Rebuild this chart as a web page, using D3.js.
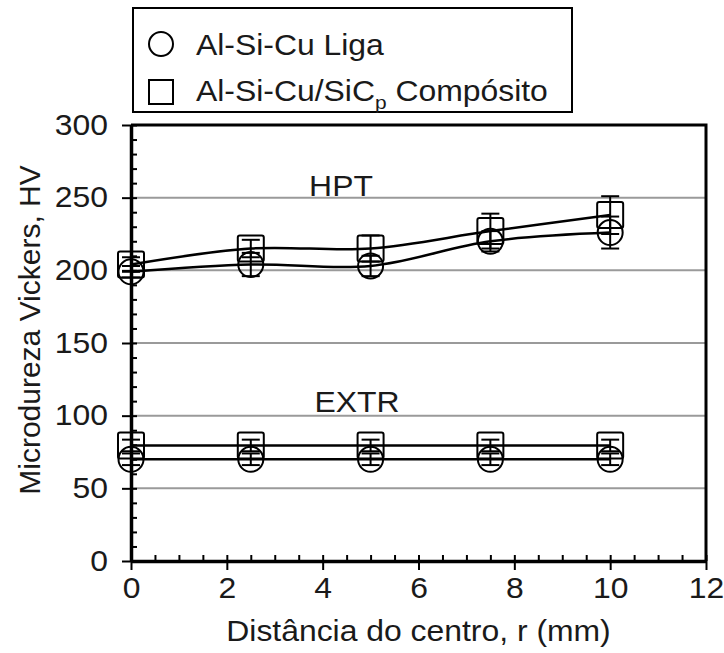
<!DOCTYPE html>
<html>
<head>
<meta charset="utf-8">
<script src="https://cdn.jsdelivr.net/npm/d3@7.9.0/dist/d3.min.js"></script>
<style>
  body { margin: 0; background: #fff; }
  svg text { font-family: "Liberation Sans", Arial, sans-serif; fill: #1a1a1a; }
</style>
</head>
<body>
<svg width="724" height="653"></svg>
<script>
// distance from centre (mm)
const radius = [0, 2.5, 5, 7.5, 10];

// HPT series
const hptComposite = [204, 215, 215, 227, 238];
const hptCompositeErr = [5, 6, 9, 12, 13];
const hptAlloy = [199, 204, 203, 220, 226];
const hptAlloyErr = [4, 8, 7, 7, 11];

// EXTR series
const extrComposite = [79.5, 79.5, 79.5, 79.5, 79.5];
const extrCompositeErr = [4, 4, 4, 4, 4];
const extrAlloy = [70, 70, 70, 70, 70];
const extrAlloyErr = [4, 4, 4, 4, 4];

const xTicks = [0, 2, 4, 6, 8, 10, 12];
const yTicks = [0, 50, 100, 150, 200, 250, 300];

const FS = '29px';   // font size
const SX = 1.1;      // the original text is a little wider than Liberation Sans

const svg = d3.select('svg');
const x = d3.scaleLinear().domain([0, 12]).range([131, 706]);
const y = d3.scaleLinear().domain([0, 300]).range([561, 125]);

// horizontal text with the stretch applied
function label(parent, tx, ty, str, anchor) {
    return parent.append('text')
        .attr('transform', `translate(${tx},${ty}) scale(${SX},1)`)
        .attr('text-anchor', anchor || 'start')
        .style('font-size', FS)
        .text(str);
}

// gridlines
svg.append('g')
    .selectAll('line')
    .data(yTicks.filter(d => d > 0 && d < 300))
    .join('line')
    .attr('x1', x(0)).attr('x2', x(12))
    .attr('y1', d => y(d)).attr('y2', d => y(d))
    .attr('stroke', '#9a9a9a').attr('stroke-width', 2);

// frame top / right
svg.append('path')
    .attr('d', `M${x(0)},${y(300)}H${x(12)}V${y(0)}`)
    .attr('fill', 'none').attr('stroke', '#000').attr('stroke-width', 3);

// minor ticks (inward)
const minorY = d3.range(0, 301, 10);
const minorX = d3.range(0, 12.01, 0.5);
svg.append('g')
    .attr('transform', `translate(${x(0)},0)`)
    .call(d3.axisRight(y).tickValues(minorY).tickSize(6).tickFormat(''))
    .call(g => g.select('.domain').remove())
    .call(g => g.selectAll('line').attr('stroke-width', 2));
svg.append('g')
    .attr('transform', `translate(0,${y(0)})`)
    .call(d3.axisTop(x).tickValues(minorX).tickSize(6).tickFormat(''))
    .call(g => g.select('.domain').remove())
    .call(g => g.selectAll('line').attr('stroke-width', 2));

// main axes
const yAxis = svg.append('g')
    .attr('transform', `translate(${x(0)},0)`)
    .call(d3.axisLeft(y).tickValues(yTicks).tickSize(9).tickPadding(14).tickSizeOuter(0));
const xAxis = svg.append('g')
    .attr('transform', `translate(0,${y(0)})`)
    .call(d3.axisBottom(x).tickValues(xTicks).tickSize(9).tickPadding(7).tickSizeOuter(0));
[yAxis, xAxis].forEach(g => {
    g.select('.domain').attr('stroke-width', 3.5);
    g.selectAll('.tick line').attr('stroke-width', 2);
    g.selectAll('.tick text')
        .style('font-family', '"Liberation Sans", Arial, sans-serif')
        .style('font-size', FS).attr('fill', '#1a1a1a');
});
yAxis.selectAll('.tick text').attr('x', -23 / SX).attr('transform', `scale(${SX},1)`);
xAxis.selectAll('.tick text').attr('transform', `scale(${SX},1)`);

// axis titles
label(svg, x(6), 641, 'Distância do centro, r (mm)', 'middle');
svg.append('text')
    .attr('transform', `translate(40,330) rotate(-90)`)
    .attr('text-anchor', 'middle').style('font-size', '30px')
    .text('Microdureza Vickers, HV');

// group labels
label(svg, 341, 196, 'HPT', 'middle');
label(svg, 357, 412, 'EXTR', 'middle');

const line = d3.line().x(d => x(d[0])).y(d => y(d[1])).curve(d3.curveCatmullRom.alpha(0.5));
const series = [
    { vals: hptComposite, err: hptCompositeErr, shape: 'square' },
    { vals: hptAlloy, err: hptAlloyErr, shape: 'circle' },
    { vals: extrComposite, err: extrCompositeErr, shape: 'square' },
    { vals: extrAlloy, err: extrAlloyErr, shape: 'circle' }
];

series.forEach(s => {
    const pts = radius.map((r, i) => [r, s.vals[i], s.err[i]]);
    svg.append('path')
        .attr('d', line(pts))
        .attr('fill', 'none').attr('stroke', '#000').attr('stroke-width', 2.5);

    const eb = svg.append('g').attr('stroke', '#000').attr('stroke-width', 2);
    pts.forEach(p => {
        const cx = x(p[0]);
        eb.append('line').attr('x1', cx).attr('x2', cx)
            .attr('y1', y(p[1] + p[2])).attr('y2', y(p[1] - p[2]));
        [p[1] + p[2], p[1] - p[2]].forEach(v => {
            eb.append('line').attr('x1', cx - 9).attr('x2', cx + 9)
                .attr('y1', y(v)).attr('y2', y(v));
        });
    });

    const mk = svg.append('g').attr('fill', 'none').attr('stroke', '#000').attr('stroke-width', 2);
    pts.forEach(p => {
        if (s.shape === 'circle') {
            mk.append('circle').attr('cx', x(p[0])).attr('cy', y(p[1])).attr('r', 12.5);
        } else {
            mk.append('rect').attr('x', x(p[0]) - 13).attr('y', y(p[1]) - 13)
                .attr('width', 26).attr('height', 26).attr('rx', 2);
        }
    });
});

// legend
const legend = svg.append('g');
legend.append('rect')
    .attr('x', 133).attr('y', 8).attr('width', 439).attr('height', 104)
    .attr('fill', '#fff').attr('stroke', '#000').attr('stroke-width', 2);
legend.append('circle').attr('cx', 161).attr('cy', 44).attr('r', 12)
    .attr('fill', 'none').attr('stroke', '#000').attr('stroke-width', 2);
legend.append('rect').attr('x', 149).attr('y', 80).attr('width', 24).attr('height', 24)
    .attr('fill', 'none').attr('stroke', '#000').attr('stroke-width', 2);
label(legend, 196, 55, 'Al-Si-Cu Liga');
const t2 = label(legend, 196, 101, '');
t2.append('tspan').text('Al-Si-Cu/SiC');
t2.append('tspan').attr('dy', 8).style('font-size', '19px').text('p');
t2.append('tspan').attr('dy', -8).text(' Compósito');
</script>
</body>
</html>
